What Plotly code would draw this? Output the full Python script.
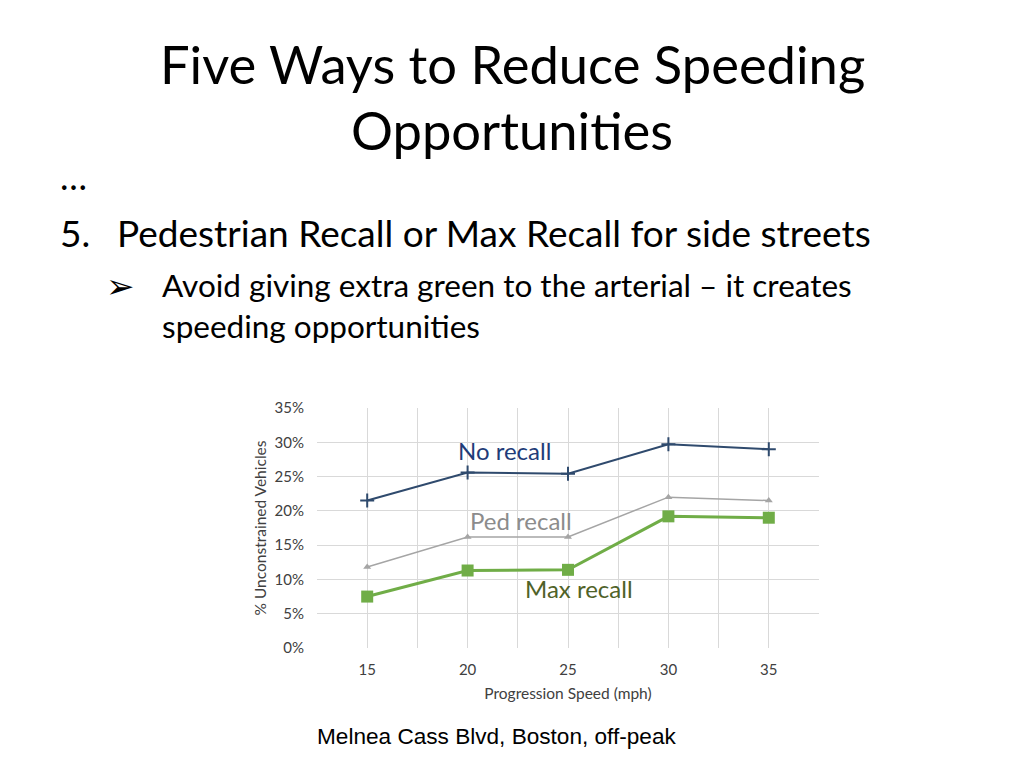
import plotly.graph_objects as go

SPEEDS = [15, 20, 25, 30, 35]
NO_RECALL = [21.5, 25.6, 25.4, 29.7, 29.0]
PED_RECALL = [11.8, 16.2, 16.2, 22.0, 21.5]
MAX_RECALL = [7.5, 11.3, 11.4, 19.2, 19.0]

FONT = "Lato"
NAVY = "#2F4A6D"
GREY = "#A5A5A5"
GREEN = "#70AD47"
AXIS_TEXT = "#404040"
GRID = "#D9D9D9"

# page body adds a small margin around the figure; positions below are in screen pixels
PAGE_OFFSET = 8

fig = go.Figure()

fig.add_trace(go.Scatter(
    x=SPEEDS, y=NO_RECALL, mode="lines+markers", name="No recall",
    line=dict(color=NAVY, width=2),
    marker=dict(symbol="cross-thin", size=10, line=dict(color=NAVY, width=2)),
))
fig.add_trace(go.Scatter(
    x=SPEEDS, y=PED_RECALL, mode="lines+markers", name="Ped recall",
    line=dict(color=GREY, width=1.5),
    marker=dict(symbol="triangle-up", size=7, color=GREY),
))
fig.add_trace(go.Scatter(
    x=SPEEDS, y=MAX_RECALL, mode="lines+markers", name="Max recall",
    line=dict(color=GREEN, width=3),
    marker=dict(symbol="square", size=12, color=GREEN),
))

# series labels inside the chart
fig.add_annotation(x=21.86, y=28.8, text="No recall", showarrow=False,
                   font=dict(family=FONT, size=24, color="#1F3C78"))
fig.add_annotation(x=22.66, y=18.6, text="Ped recall", showarrow=False,
                   font=dict(family=FONT, size=24, color="#8C8C8C"))
fig.add_annotation(x=25.55, y=8.7, text="Max recall", showarrow=False,
                   font=dict(family=FONT, size=24, color="#4F6228"))


def paper_text(text, x, y, size, xanchor="left", family=FONT):
    xf = x - PAGE_OFFSET - (4 if xanchor == "left" else 0)
    yf = y - PAGE_OFFSET
    fig.add_annotation(xref="paper", yref="paper", x=xf / 1024, y=1 - yf / 768,
                       text=text, showarrow=False, xanchor=xanchor, yanchor="middle",
                       font=dict(family=family, size=size, color="#000000"))


paper_text("Five Ways to Reduce Speeding", 512, 63, 52.5, xanchor="center")
paper_text("Opportunities", 512, 130, 52.5, xanchor="center")
paper_text("…", 62, 176, 36)
paper_text("5.", 62, 232, 37)
paper_text("Pedestrian Recall or Max Recall for side streets", 119, 232, 37)
paper_text("➢", 108, 284, 34)
paper_text("Avoid giving extra green to the arterial – it creates", 164, 285, 31.5)
paper_text("speeding opportunities", 164, 326, 31.5)
paper_text("Melnea Cass Blvd, Boston, off-peak", 319, 736, 22.6,
           family="Liberation Sans")

fig.update_layout(
    width=1024, height=768,
    margin=dict(l=0, r=0, t=0, b=0),
    paper_bgcolor="white", plot_bgcolor="white",
    showlegend=False,
    font=dict(family=FONT, color=AXIS_TEXT, size=15),
    xaxis=dict(
        domain=[(317 - PAGE_OFFSET) / 1024, (819 - PAGE_OFFSET) / 1024],
        range=[12.5, 37.5], tick0=15, dtick=5, automargin=False,
        showgrid=True, gridcolor=GRID, gridwidth=1,
        minor=dict(dtick=2.5, tick0=12.5, showgrid=True, gridcolor=GRID),
        zeroline=False, showline=False, ticks="", ticklabelstandoff=11,
        tickfont=dict(size=15, color=AXIS_TEXT),
        title=dict(text="Progression Speed (mph)", font=dict(size=15.5, color=AXIS_TEXT), standoff=11),
    ),
    yaxis=dict(
        domain=[1 - (648 - PAGE_OFFSET) / 768, 1 - (408 - PAGE_OFFSET) / 768],
        range=[0, 35], dtick=5, automargin=False,
        ticksuffix="%", showgrid=True, gridcolor=GRID, gridwidth=1,
        zeroline=False, showline=False, ticks="", ticklabelstandoff=12,
        tickfont=dict(size=15, color=AXIS_TEXT),
        title=dict(text="% Unconstrained Vehicles", font=dict(size=15.5, color=AXIS_TEXT), standoff=4),
    ),
)

fig.write_html("out.html")
